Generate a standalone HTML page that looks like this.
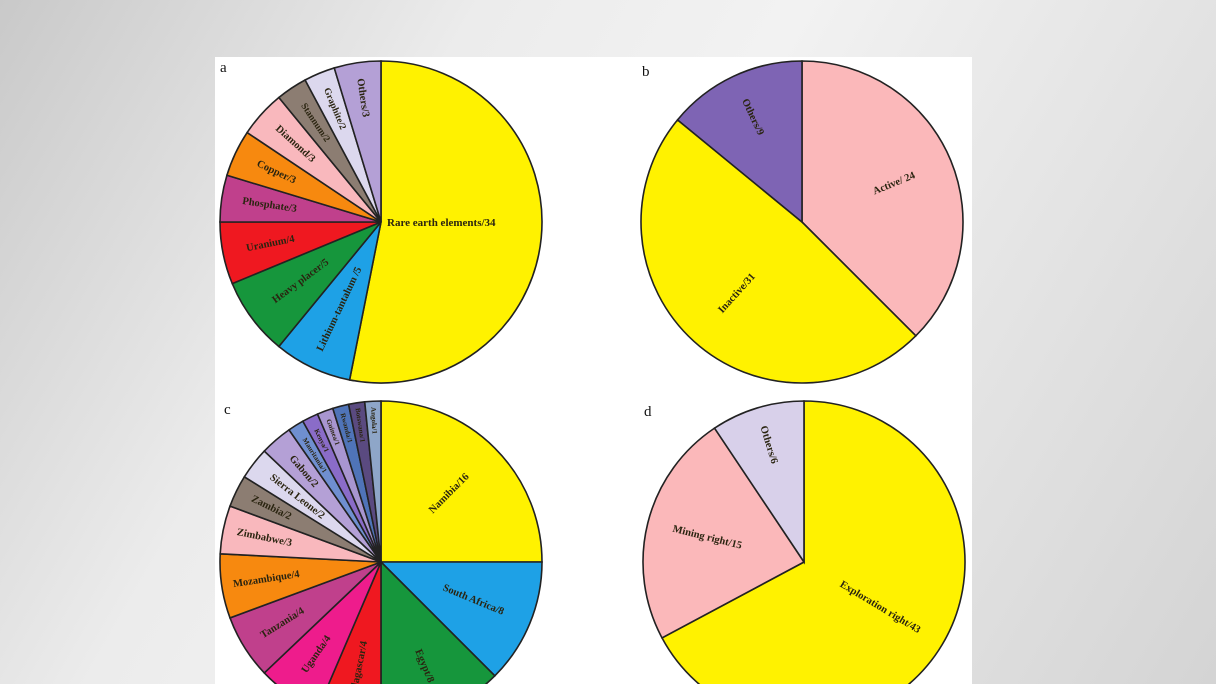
<!DOCTYPE html>
<html><head><meta charset="utf-8">
<style>
html,body{margin:0;padding:0;width:1216px;height:684px;overflow:hidden;}
body{background:linear-gradient(120deg,#c9c9c9 0%,#ececec 30%,#f2f2f2 50%,#e6e6e6 70%,#d4d4d4 100%);font-family:"Liberation Serif",serif;}
#wrap{position:relative;width:1216px;height:684px;overflow:hidden;}
#panel{position:absolute;left:215px;top:57px;width:757px;height:627px;background:#fff;}
svg{position:absolute;left:0;top:0;overflow:hidden;display:block;}
</style></head><body>
<div id="wrap">
<div id="panel"></div>
<svg id="s" width="1216" height="684" viewBox="0 0 1216 684" xmlns="http://www.w3.org/2000/svg"></svg>
</div>
<script>
var S=document.getElementById('s');var NS='http://www.w3.org/2000/svg';
function el(t,a,txt){var e=document.createElementNS(NS,t);for(var k in a)e.setAttribute(k,a[k]);if(txt)e.textContent=txt;S.appendChild(e);return e;}
function pie(cx,cy,r,data){
 var tot=0;data.forEach(function(d){tot+=d[1];});
 var a=0;
 data.forEach(function(d){
  var s=a,e=a+d[1]/tot*360;a=e;
  var rs=s*Math.PI/180,re=e*Math.PI/180;
  var x1=cx+r*Math.sin(rs),y1=cy-r*Math.cos(rs),x2=cx+r*Math.sin(re),y2=cy-r*Math.cos(re);
  var large=(e-s)>180?1:0;
  el('path',{d:'M'+cx+','+cy+'L'+x1+','+y1+'A'+r+','+r+' 0 '+large+' 1 '+x2+','+y2+'Z',fill:d[2],stroke:'#222','stroke-width':1.6});
  var m=(s+e)/2,mr=m*Math.PI/180;
  var fs=d[4]||10.5;
  if(d[5]==='start'){
   el('text',{x:cx+6,y:cy+4,'font-size':fs,'font-weight':'bold',fill:'#2a2410','font-family':'Liberation Serif, serif'},d[0]);
   return;
  }
  var lr=r*(d[3]||0.6);
  var tx=cx+lr*Math.sin(mr),ty=cy-lr*Math.cos(mr);
  var rot=m<=180?m-90:m-270;
  el('text',{x:tx,y:ty,'font-size':fs,'font-weight':'bold',fill:'#2a2410','text-anchor':'middle','dominant-baseline':'central','font-family':'Liberation Serif, serif',transform:'rotate('+rot+' '+tx+' '+ty+')'},d[0]);
 });
}
pie(381,222,161,[
 ['Rare earth  elements/34',34,'#fff200',0.5,11,'start'],
 ['Lithium-tantalum /5',5,'#1ea1e6',0.6],
 ['Heavy placer/5',5,'#16963c',0.62],
 ['Uranium/4',4,'#ef1820',0.7],
 ['Phosphate/3',3,'#c0408c',0.7],
 ['Copper/3',3,'#f7890f',0.72],
 ['Diamond/3',3,'#f9b8bd',0.72],
 ['Stannum/2',2,'#8c7d72',0.74,9.5],
 ['Graphite/2',2,'#dcd8ee',0.76,9.5],
 ['Others/3',3,'#b4a0d6',0.78]
]);
pie(802,222,161,[
 ['Active/ 24',24,'#fbb8ba',0.62],
 ['Inactive/31',31,'#fff200',0.6],
 ['Others/9',9,'#7e64b4',0.72]
]);
var k=32/31;
pie(381,562,161,[
 ['Namibia/16',16,'#fff200',0.6],
 ['South Africa/8',8,'#1ea1e6',0.62],
 ['Egypt/8',8,'#16963c',0.7],
 ['Madagascar/4',4*k,'#ef1820',0.7],
 ['Uganda/4',4*k,'#ee1c8c',0.7],
 ['Tanzania/4',4*k,'#c0408c',0.72],
 ['Mozambique/4',4*k,'#f7890f',0.72],
 ['Zimbabwe/3',3*k,'#f9b8bd',0.74],
 ['Zambia/2',2*k,'#8c7d72',0.76],
 ['Sierra Leone/2',2*k,'#dcd8ee',0.66],
 ['Gabon/2',2*k,'#b4a0d6',0.74],
 ['Mauritania/1',1*k,'#6f8fd0',0.78,7],
 ['Kenya/1',1*k,'#8a6cc8',0.84,7],
 ['Guinea/1',1*k,'#a896d0',0.86,7],
 ['Rwanda/1',1*k,'#4f74b8',0.86,7],
 ['Botswana/1',1*k,'#5a4a80',0.86,7],
 ['Angola/1',1*k,'#8ea6c8',0.88,7]
]);
pie(804,562,161,[
 ['Exploration right/43',43,'#fff200',0.55],
 ['Mining right/15',15,'#fbb8ba',0.62],
 ['Others/6',6,'#d8d0ea',0.76]
]);
[['a',220,72],['b',642,76],['c',224,414],['d',644,416]].forEach(function(l){
 el('text',{x:l[1],y:l[2],'font-size':15,fill:'#111','font-family':'Liberation Serif, serif'},l[0]);
});
</script>
</body></html>
